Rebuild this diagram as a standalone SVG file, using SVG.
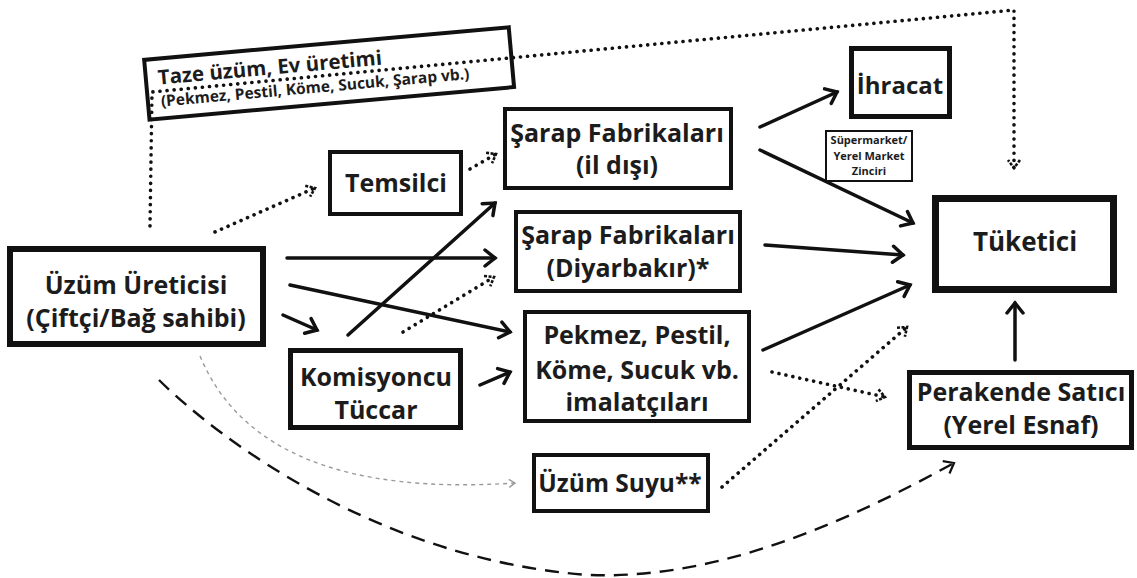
<svg xmlns="http://www.w3.org/2000/svg" width="1137" height="578" viewBox="0 0 1137 578">
  <style>
    .box { fill: #ffffff; stroke: #111111; }
    .lbl { font-family: "Open Sans", "Noto Sans", "DejaVu Sans", sans-serif; font-weight: 700; fill: #1c1c1c; text-anchor: middle; }
    .start { text-anchor: start; }
    .solid { fill: none; stroke: #111111; stroke-width: 3.5; stroke-linecap: round; }
    .dot { fill: none; stroke: #111111; stroke-width: 3.6; stroke-linecap: round; stroke-dasharray: 0.1 7; }
    .gray { fill: none; stroke: #9a9a9a; stroke-width: 1.4; stroke-dasharray: 4 4; }
    .dash { fill: none; stroke: #111111; stroke-width: 2.4; stroke-dasharray: 14 9; }
  </style>
  <defs>
    <marker id="arr" markerUnits="userSpaceOnUse" viewBox="-16 -12 20 24" refX="0" refY="0" markerWidth="20" markerHeight="24" orient="auto">
      <path d="M-10,-8 L0,0 L-10,8" fill="none" stroke="#111111" stroke-width="3.5" stroke-linecap="round"/>
    </marker>
    <marker id="arrd" markerUnits="userSpaceOnUse" viewBox="-14 -10 18 20" refX="0" refY="0" markerWidth="18" markerHeight="20" orient="auto">
      <path d="M-8,-6 L0,0 L-8,6" fill="none" stroke="#111111" stroke-width="2.6" stroke-dasharray="3 1.5"/>
    </marker>
    <marker id="arrg" markerUnits="userSpaceOnUse" viewBox="-10 -8 12 16" refX="0" refY="0" markerWidth="12" markerHeight="16" orient="auto">
      <path d="M-6,-4 L0,0 L-6,4" fill="none" stroke="#9a9a9a" stroke-width="1.4"/>
    </marker>
    <marker id="arrk" markerUnits="userSpaceOnUse" viewBox="-14 -10 18 20" refX="0" refY="0" markerWidth="18" markerHeight="20" orient="auto">
      <path d="M-9,-7 L0,0 L-9,7" fill="none" stroke="#111111" stroke-width="2.2"/>
    </marker>
  </defs>

  <rect width="1137" height="578" fill="#ffffff"/>

  <!-- connectors -->
  <g id="connectors">
    <path class="dot" d="M150,226 L152,92 L1014,10 L1014,168" marker-end="url(#arrd)"/>
    <path class="dot" d="M215,232 L315,188" marker-end="url(#arrd)"/>
    <path class="dot" d="M470,169 L496,154" marker-end="url(#arrd)"/>
    <path class="solid" d="M287,258 L495,258" marker-end="url(#arr)"/>
    <path class="solid" d="M290,285 L510,332" marker-end="url(#arr)"/>
    <path class="solid" d="M283,315 L317,330" marker-end="url(#arr)"/>
    <path class="solid" d="M348,335 L495,203" marker-end="url(#arr)"/>
    <path class="dot" d="M403,332 L494,277" marker-end="url(#arrd)"/>
    <path class="solid" d="M480,385 L510,372" marker-end="url(#arr)"/>
    <path class="solid" d="M760,127 L837,92" marker-end="url(#arr)"/>
    <path class="solid" d="M760,150 L913,223" marker-end="url(#arr)"/>
    <path class="solid" d="M765,245 L903,255" marker-end="url(#arr)"/>
    <path class="solid" d="M763,350 L910,285" marker-end="url(#arr)"/>
    <path class="dot" d="M772,372 L885,397" marker-end="url(#arrd)"/>
    <path class="dot" d="M722,487 L907,327" marker-end="url(#arrd)"/>
    <path class="solid" d="M1015,360 L1015,303" marker-end="url(#arr)"/>
    <path class="gray" d="M200,356 Q260,500 515,483" marker-end="url(#arrg)"/>
    <path class="dash" d="M159,380 C220,440 380,560 589,575 C720,580 850,520 954,463" marker-end="url(#arrk)"/>
  </g>

  <!-- tilted note: fresh grapes / home production -->
  <g id="ev-uretimi" transform="translate(142,58) rotate(-5.1)">
    <rect x="2" y="2" width="366" height="60" fill="none" stroke="#111111" stroke-width="4"/>
    <text class="lbl start" x="14" y="28" font-size="20.5">Taze üzüm, Ev üretimi</text>
    <text class="lbl start" x="15" y="50" font-size="15.5">(Pekmez, Pestil, Köme, Sucuk, Şarap vb.)</text>
  </g>

  <g id="uretici">
    <rect class="box" x="10" y="249" width="253" height="95" stroke-width="6"/>
    <text class="lbl" x="136" y="294" font-size="25">Üzüm Üreticisi</text>
    <text class="lbl" x="136" y="327" font-size="25">(Çiftçi/Bağ sahibi)</text>
  </g>

  <g id="temsilci">
    <rect class="box" x="330" y="152" width="131" height="62" stroke-width="4"/>
    <text class="lbl" x="396" y="192" font-size="25">Temsilci</text>
  </g>

  <g id="sarap-il-disi">
    <rect class="box" x="505" y="109" width="226" height="79" stroke-width="4"/>
    <text class="lbl" x="617" y="142" font-size="25">Şarap Fabrikaları</text>
    <text class="lbl" x="617" y="174" font-size="25">(il dışı)</text>
  </g>

  <g id="sarap-diyarbakir">
    <rect class="box" x="516" y="212" width="224" height="79" stroke-width="4"/>
    <text class="lbl" x="628" y="244" font-size="25">Şarap Fabrikaları</text>
    <text class="lbl" x="628" y="277" font-size="25">(Diyarbakır)*</text>
  </g>

  <g id="imalatcilar">
    <rect class="box" x="525" y="312" width="224" height="109" stroke-width="4"/>
    <text class="lbl" x="637" y="344" font-size="25">Pekmez, Pestil,</text>
    <text class="lbl" x="637" y="379" font-size="25">Köme, Sucuk vb.</text>
    <text class="lbl" x="637" y="411" font-size="25">imalatçıları</text>
  </g>

  <g id="komisyoncu">
    <rect class="box" x="290.5" y="350.5" width="170" height="77" stroke-width="5"/>
    <text class="lbl" x="376" y="386" font-size="25">Komisyoncu</text>
    <text class="lbl" x="376" y="419" font-size="25">Tüccar</text>
  </g>

  <g id="uzum-suyu">
    <rect class="box" x="534" y="455" width="174" height="56" stroke-width="4"/>
    <text class="lbl" x="620" y="492" font-size="24.5">Üzüm Suyu**</text>
  </g>

  <g id="ihracat">
    <rect class="box" x="851.5" y="48.5" width="98" height="68" stroke-width="5"/>
    <text class="lbl" x="900" y="94" font-size="24">İhracat</text>
  </g>

  <g id="supermarket">
    <rect class="box" x="826" y="131" width="86" height="50" stroke-width="2"/>
    <text class="lbl" x="869" y="144" font-size="11">Süpermarket/</text>
    <text class="lbl" x="869" y="160" font-size="11">Yerel Market</text>
    <text class="lbl" x="869" y="175" font-size="11">Zinciri</text>
  </g>

  <g id="tuketici">
    <rect class="box" x="935.5" y="198.5" width="178" height="91" stroke-width="7"/>
    <text class="lbl" x="1025" y="251" font-size="26">Tüketici</text>
  </g>

  <g id="perakende">
    <rect class="box" x="909.5" y="372.5" width="222" height="75" stroke-width="5"/>
    <text class="lbl" x="1021" y="401" font-size="25">Perakende Satıcı</text>
    <text class="lbl" x="1021" y="434" font-size="25">(Yerel Esnaf)</text>
  </g>
</svg>
